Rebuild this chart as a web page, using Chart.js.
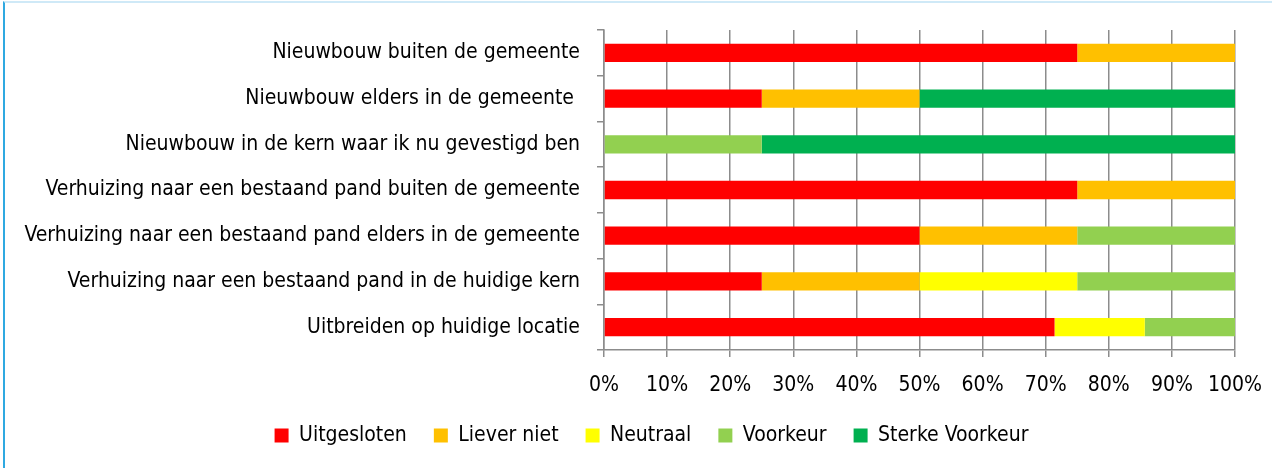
<!DOCTYPE html>
<html>
<head>
<meta charset="utf-8">
<script src="https://cdn.jsdelivr.net/npm/chart.js@4/dist/chart.umd.min.js"></script>
<style>
  html, body { margin: 0; padding: 0; background: #fff; }
  #wrap { position: relative; width: 1272px; height: 468px; }
  #kader { position: absolute; left: 3px; top: 1px; width: 1290px; height: 500px;
           border-left: 2px solid #2fa9e1; border-top: 2px solid #cfe9f7; }
  canvas { position: absolute; left: 0; top: 0; }
</style>
</head>
<body>
<div id="wrap">
  <div id="kader"></div>
  <canvas id="myChart" width="1272" height="468"></canvas>
</div>
<script>
var categorieen = [
  "Nieuwbouw buiten de gemeente",
  "Nieuwbouw elders in de gemeente ",
  "Nieuwbouw in de kern waar ik nu gevestigd ben",
  "Verhuizing naar een bestaand pand buiten de gemeente",
  "Verhuizing naar een bestaand pand elders in de gemeente",
  "Verhuizing naar een bestaand pand in de huidige kern",
  "Uitbreiden op huidige locatie"
];

var uitgesloten    = [75, 25, 0, 75, 50, 25, 71.4];
var lieverNiet     = [25, 25, 0, 25, 25, 25, 0];
var neutraal       = [0, 0, 0, 0, 0, 25, 14.3];
var voorkeur       = [0, 0, 25, 0, 25, 25, 14.3];
var sterkeVoorkeur = [0, 50, 75, 0, 0, 0, 0];

var xTicks = ["0%", "10%", "20%", "30%", "40%", "50%", "60%", "70%", "80%", "90%", "100%"];

var lettertype = "'Liberation Sans Narrow', 'DejaVu Sans Condensed', sans-serif";
var grijs = '#8c8c8c';

function maakSet(naam, data, kleur) {
  return {
    label: naam,
    data: data,
    backgroundColor: kleur,
    borderWidth: 0,
    categoryPercentage: 1,
    barPercentage: 0.4
  };
}

// legenda iets naar rechts schuiven, zoals in het origineel
var legendaVerschuiving = {
  id: 'legendaVerschuiving',
  afterUpdate: function (chart) {
    var lg = chart.legend;
    if (!lg) return;
    var dx = 34;
    lg.left += dx;
    lg.right += dx;
    if (lg.legendHitBoxes) {
      lg.legendHitBoxes.forEach(function (h) { h.left += dx; });
    }
  }
};

var ctx = document.getElementById('myChart').getContext('2d');
var grafiek = new Chart(ctx, {
  type: 'bar',
  data: {
    labels: categorieen,
    datasets: [
      maakSet('Uitgesloten', uitgesloten, '#ff0000'),
      maakSet('Liever niet', lieverNiet, '#ffc000'),
      maakSet('Neutraal', neutraal, '#ffff00'),
      maakSet('Voorkeur', voorkeur, '#92d050'),
      maakSet('Sterke Voorkeur', sterkeVoorkeur, '#00b050')
    ]
  },
  plugins: [legendaVerschuiving],
  options: {
    indexAxis: 'y',
    responsive: false,
    animation: false,
    layout: { padding: { top: 30, right: 37, bottom: 12, left: 0 } },
    plugins: {
      tooltip: { enabled: false },
      legend: {
        position: 'bottom',
        labels: {
          color: '#000',
          font: { family: lettertype, size: 21 },
          boxWidth: 14,
          boxHeight: 14,
          padding: 27
        }
      }
    },
    scales: {
      x: {
        stacked: true,
        min: 0,
        max: 100,
        afterFit: function (scale) {
          scale.height = 48;
          scale.paddingLeft = 0;
          scale.paddingRight = 0;
        },
        ticks: {
          stepSize: 10,
          color: '#000',
          padding: 16,
          font: { family: lettertype, size: 21 },
          callback: function (v, i) { return xTicks[i]; }
        },
        grid: { color: grijs, lineWidth: 1.5, tickLength: 7 },
        border: { color: grijs, width: 1.5 }
      },
      y: {
        stacked: true,
        afterFit: function (scale) { scale.width = 604; },
        ticks: {
          color: '#000',
          padding: 17,
          font: { family: lettertype, size: 21 }
        },
        grid: { color: grijs, lineWidth: 1.5, tickLength: 7, drawOnChartArea: false, offset: true },
        border: { color: grijs, width: 1.5 }
      }
    }
  }
});
</script>
</body>
</html>
